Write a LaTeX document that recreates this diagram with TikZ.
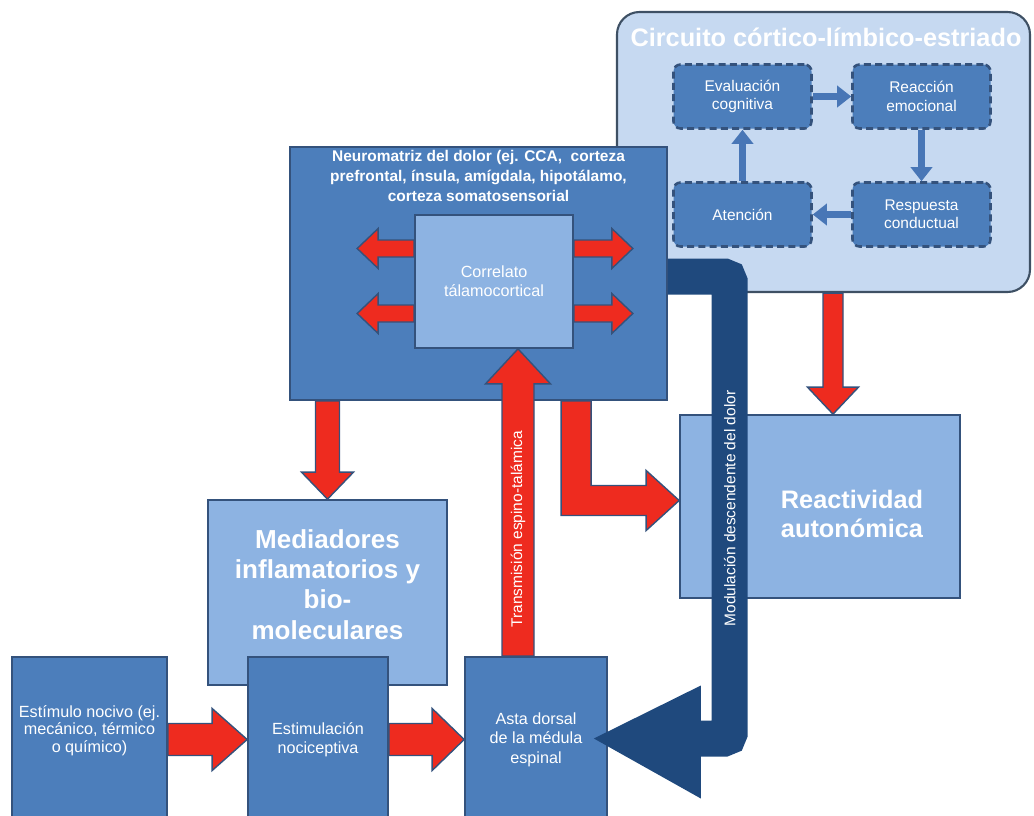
\documentclass[tikz,border=0pt]{standalone}
\usepackage{fontspec}
\setmainfont{Liberation Sans}
\usetikzlibrary{calc,arrows.meta}

\definecolor{azulmedio}{HTML}{4C7EBB}
\definecolor{azulclaro}{HTML}{8DB3E2}
\definecolor{azulfondo}{HTML}{C6D9F1}
\definecolor{azulborde}{HTML}{34527C}
\definecolor{azuloscuro}{HTML}{1F497D}
\definecolor{azulflecha}{HTML}{4876B6}
\definecolor{rojo}{HTML}{EE2B1F}
\definecolor{grisborde}{HTML}{3E5064}

\tikzset{
  sz/.style 2 args={minimum width=#1*0.025cm, minimum height=#2*0.025cm},
  caja/.style={draw=azulborde, line width=1.2pt, fill=azulmedio, inner sep=0pt,
    text=white, align=center, font=\fontsize{11.5}{13.8}\selectfont},
  cajaclara/.style={caja, fill=azulclaro},
  cajacirc/.style={draw=azulborde, line width=1.8pt, dash pattern=on 5pt off 3pt,
    fill=azulmedio, rounded corners=5pt, inner sep=0pt, text=white, align=center,
    font=\fontsize{11}{13}\selectfont, sz={138}{64}},
  flechacirc/.style={azulflecha, line width=5pt, -{Triangle[width=15pt,length=10pt]}},
  bloquerojo/.style={fill=rojo, draw=azulborde, line width=1pt, line join=miter},
  titulo/.style={text=white, inner sep=0pt, align=center, font=\bfseries\fontsize{18}{21.5}\selectfont},
  texto/.style={text=white, inner sep=0pt, align=center, font=\fontsize{11.5}{12.5}\selectfont},
  girado/.style={rotate=90, text=white, inner sep=0pt, font=\fontsize{11}{13}\selectfont},
  banda/.style={draw=azuloscuro, line width=25.6pt, rounded corners=4pt}
}

% flecha de bloque: desde, hasta, ancho, ancho punta, largo punta (px)
\newcommand{\flechabloque}[5]{%
  \coordinate (fb-h) at ($(#2)!#5*0.025cm!(#1)$);
  \filldraw[bloquerojo] ($(#1)!#3*0.0125cm!90:(#2)$) -- ($(fb-h)!#3*0.0125cm!90:(#2)$)
    -- ($(fb-h)!#4*0.0125cm!90:(#2)$) -- (#2) -- ($(fb-h)!#4*0.0125cm!-90:(#2)$)
    -- ($(fb-h)!#3*0.0125cm!-90:(#2)$) -- ($(#1)!#3*0.0125cm!-90:(#2)$) -- cycle;}

\begin{document}
\begin{tikzpicture}[x=0.025cm, y=-0.025cm]
\useasboundingbox (0,0) rectangle (1034,816);
% Circuito
\node[draw=grisborde, line width=1.5pt, fill=azulfondo, rounded corners=16pt, sz={413}{280}] (circuit) at (823.5,152) {};
\node[titulo] (circuit-t) at (826,37) {Circuito córtico-límbico-estriado};
\node[cajacirc] (eval) at (742.5,96.5) {Evaluación\\cognitiva};
\node[cajacirc] (reac) at (921.5,96.5) {Reacción\\emocional};
\node[cajacirc] (resp) at (921.5,214.5) {Respuesta\\conductual};
\node[cajacirc] (aten) at (742.5,214.5) {Atención};
\draw[flechacirc] (eval) -- (reac);
\draw[flechacirc] (reac) -- (resp);
\draw[flechacirc] (resp) -- (aten);
\draw[flechacirc] (aten) -- (eval);

% Neuromatriz
\node[caja, sz={377}{253}] (neuro) at (478.5,273.5) {};
\node[text=white, inner sep=0pt, align=center, anchor=north, font=\bfseries\fontsize{11}{14}\selectfont] (neuro-t) at ($(neuro.north)+(0,4)$)
  {Neuromatriz del dolor (ej. CCA,~ corteza\\prefrontal, ínsula, amígdala, hipotálamo,\\corteza somatosensorial};
\node[cajaclara, sz={158}{133}] (correl) at (494,281.5) {Correlato\\tálamocortical};
\coordinate (cl1a) at ($(correl.west)+(0,-33)$);
\coordinate (cl1b) at ($(cl1a)+(-57,0)$);
\coordinate (cl2a) at ($(correl.west)+(0,32)$);
\coordinate (cl2b) at ($(cl2a)+(-57,0)$);
\coordinate (cr1a) at ($(correl.east)+(0,-33)$);
\coordinate (cr1b) at ($(cr1a)+(59,0)$);
\coordinate (cr2a) at ($(correl.east)+(0,32)$);
\coordinate (cr2b) at ($(cr2a)+(59,0)$);
\flechabloque{cl1a}{cl1b}{17}{40}{21}
\flechabloque{cl2a}{cl2b}{17}{40}{21}
\flechabloque{cr1a}{cr1b}{17}{40}{21}
\flechabloque{cr2a}{cr2b}{17}{40}{21}

% Cajas inferiores
\node[cajaclara, sz={239}{185}] (medi) at (327.5,592.5) {};
\node[titulo, font=\bfseries\fontsize{18.5}{21.5}\selectfont] (medi-t) at ($(medi.center)+(0,-8)$)
  {Mediadores\\inflamatorios y\\bio-\\moleculares};
\node[caja, sz={155}{165}] (estim) at (89.5,739.5) {};
\node[texto] (estim-t) at ($(estim.center)+(0,-9)$) {Estímulo nocivo (ej.\\mecánico, térmico\\o químico)};
\node[caja, sz={140}{165}] (estimul) at (318,739.5) {Estimulación\\nociceptiva};
\node[caja, sz={142}{165}] (asta) at (536,739.5) {Asta dorsal\\de la médula\\espinal};
\node[cajaclara, sz={280}{183}] (react) at (820,506.5) {};
\node[titulo, font=\bfseries\fontsize{18}{20}\selectfont] (react-t) at (852,514) {Reactividad\\autonómica};

% Flechas rojas
\flechabloque{estim.east}{estimul.west}{32}{62}{35}
\flechabloque{estimul.east}{asta.west}{32}{62}{32}
\coordinate (nm-a) at (neuro.south -| medi.north);
\flechabloque{nm-a}{medi.north}{24}{52}{27}
\coordinate (tr-a) at ($(asta.north)+(-18,0)$);
\coordinate (tr-b) at (tr-a |- correl.south);
\flechabloque{tr-a}{tr-b}{32}{65}{35}
\node[girado] (tr-t) at ($(tr-a)+(0,-127)$) {Transmisión espino-talámica};
\coordinate (cr-a) at ($(circuit.south)+(9.5,0)$);
\coordinate (cr-b) at (cr-a |- react.north);
\flechabloque{cr-a}{cr-b}{20}{51}{27}
\coordinate (l-a) at ($(neuro.south west)+(287,0)$);
\coordinate (l-b) at ($(react.west)+(0,-6)$);
\filldraw[bloquerojo] ($(l-a)+(-15,0)$) |- ($(l-b)+(-33,15)$) -- ($(l-b)+(-33,30)$) -- (l-b)
  -- ($(l-b)+(-33,-30)$) -- ($(l-b)+(-33,-15)$) -| ($(l-a)+(15,0)$) -- cycle;

% Modulacion descendente
\coordinate (mod-a) at ($(neuro.east)+(0,3)$);
\coordinate (mod-x) at ($(react.west)+(50.5,0)$);
\coordinate (mod-tip) at ($(asta.east)+(-14,-1)$);
\coordinate (mod-h) at ($(mod-tip)+(100,0)$);
\draw[banda] (mod-a) -| (mod-x) |- (mod-h);
\fill[azuloscuro] (mod-tip) -- ($(mod-tip)+(107,-53)$) -- ($(mod-tip)+(107,60)$) -- cycle;
\node[girado] (mod-t) at ($(mod-x)+(0,2)$) {Modulación descendente del dolor};
\end{tikzpicture}
\end{document}
